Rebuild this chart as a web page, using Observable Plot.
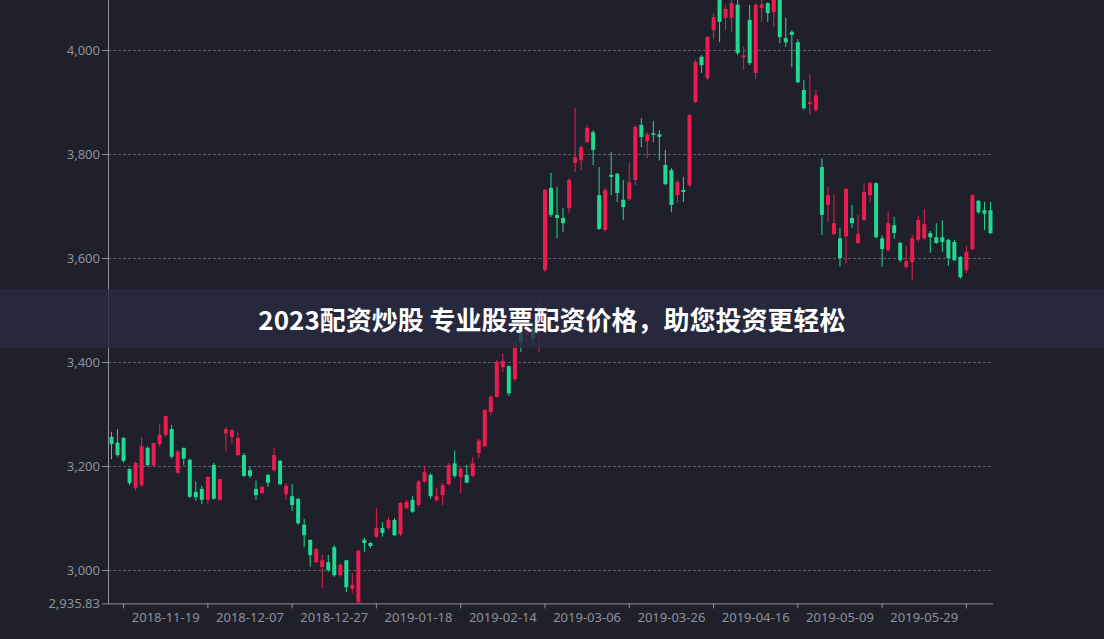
<!DOCTYPE html>
<html>
<head>
<meta charset="utf-8">
<script src="https://cdn.jsdelivr.net/npm/d3@7"></script>
<script src="https://cdn.jsdelivr.net/npm/@observablehq/plot@0.6"></script>
<style>
html, body { margin: 0; padding: 0; background: #1f202a; width: 1104px; height: 639px; overflow: hidden; }
#wrap { position: relative; width: 1104px; height: 639px; }
#banner { position: absolute; left: 0; top: 289px; width: 1104px; height: 59px; background: rgba(40, 43, 66, 0.8);
  color: #ffffff; font-family: "Noto Sans CJK SC", "Noto Sans", sans-serif; font-weight: 700; font-size: 26px;
  display: flex; align-items: center; justify-content: center; }
</style>
</head>
<body>
<div id="wrap"><div id="chart"></div><div id="banner">2023配资炒股 专业股票配资价格，助您投资更轻松</div></div>
<script>
const dates = [
"2018-11-06","2018-11-07","2018-11-08","2018-11-09",
"2018-11-12","2018-11-13","2018-11-14","2018-11-15","2018-11-16",
"2018-11-19","2018-11-20","2018-11-21","2018-11-22","2018-11-23",
"2018-11-26","2018-11-27","2018-11-28","2018-11-29","2018-11-30",
"2018-12-03","2018-12-04","2018-12-05","2018-12-06","2018-12-07",
"2018-12-10","2018-12-11","2018-12-12","2018-12-13","2018-12-14",
"2018-12-17","2018-12-18","2018-12-19","2018-12-20","2018-12-21",
"2018-12-24","2018-12-25","2018-12-26","2018-12-27","2018-12-28",
"2019-01-02","2019-01-03","2019-01-04",
"2019-01-07","2019-01-08","2019-01-09","2019-01-10","2019-01-11",
"2019-01-14","2019-01-15","2019-01-16","2019-01-17","2019-01-18",
"2019-01-21","2019-01-22","2019-01-23","2019-01-24","2019-01-25",
"2019-01-28","2019-01-29","2019-01-30","2019-01-31","2019-02-01",
"2019-02-11","2019-02-12","2019-02-13","2019-02-14","2019-02-15",
"2019-02-18","2019-02-19","2019-02-20","2019-02-21","2019-02-22",
"2019-02-25","2019-02-26","2019-02-27","2019-02-28","2019-03-01",
"2019-03-04","2019-03-05","2019-03-06","2019-03-07","2019-03-08",
"2019-03-11","2019-03-12","2019-03-13","2019-03-14","2019-03-15",
"2019-03-18","2019-03-19","2019-03-20","2019-03-21","2019-03-22",
"2019-03-25","2019-03-26","2019-03-27","2019-03-28","2019-03-29",
"2019-04-01","2019-04-02","2019-04-03","2019-04-04",
"2019-04-08","2019-04-09","2019-04-10","2019-04-11","2019-04-12",
"2019-04-15","2019-04-16","2019-04-17","2019-04-18","2019-04-19",
"2019-04-22","2019-04-23","2019-04-24","2019-04-25","2019-04-26",
"2019-04-29","2019-04-30",
"2019-05-06","2019-05-07","2019-05-08","2019-05-09","2019-05-10",
"2019-05-13","2019-05-14","2019-05-15","2019-05-16","2019-05-17",
"2019-05-20","2019-05-21","2019-05-22","2019-05-23","2019-05-24",
"2019-05-27","2019-05-28","2019-05-29","2019-05-30","2019-05-31",
"2019-06-03","2019-06-04","2019-06-05","2019-06-06",
"2019-06-10","2019-06-11","2019-06-12","2019-06-13","2019-06-14"
];

// [open, close, low, high]
const candles = [
[3256,3242,3213,3266],[3245,3221,3218,3271],[3254,3210,3206,3256],[3194,3167,3163,3196],[3158,3206,3152,3208],
[3163,3238,3160,3256],[3235,3202,3199,3238],[3201,3244,3199,3245],[3242,3260,3237,3281],[3260,3296,3256,3296],
[3271,3218,3214,3279],[3187,3228,3185,3231],[3235,3214,3202,3235],[3212,3141,3139,3214],[3150,3140,3133,3170],
[3156,3135,3127,3162],[3135,3179,3127,3181],[3202,3137,3135,3206],[3135,3175,3133,3175],[3263,3271,3228,3275],
[3256,3269,3244,3271],[3221,3254,3219,3265],[3221,3181,3179,3225],[3192,3181,3177,3199],[3156,3144,3135,3172],
[3148,3160,3146,3162],[3183,3168,3160,3185],[3192,3221,3189,3235],[3210,3165,3163,3212],[3146,3162,3135,3167],
[3142,3125,3114,3165],[3137,3090,3087,3139],[3087,3067,3044,3098],[3058,3029,3006,3058],[3015,3040,3014,3042],
[3006,3019,2965,3029],[3015,3000,2996,3029],[3044,2990,2987,3048],[2990,3010,2987,3014],[3019,2967,2958,3019],
[2964,2971,2956,2994],[2938,3037,2935.83,3039],[3058,3052,3035,3062],[3052,3046,3042,3054],[3064,3081,3062,3119],
[3081,3071,3064,3092],[3081,3096,3077,3102],[3096,3067,3065,3100],[3069,3129,3065,3131],[3119,3131,3117,3135],
[3135,3112,3110,3142],[3125,3170,3121,3173],[3170,3188,3168,3200],[3183,3142,3137,3186],[3135,3142,3131,3158],
[3144,3163,3125,3167],[3165,3202,3163,3206],[3205,3181,3177,3230],[3179,3195,3148,3197],[3183,3168,3167,3202],
[3181,3205,3179,3216],[3225,3249,3215,3252],[3238,3308,3237,3310],[3304,3333,3298,3337],[3333,3400,3331,3404],
[3390,3402,3381,3417],[3392,3340,3335,3394],[3367,3433,3363,3442],[3465,3438,3419,3471],[3452,3471,3437,3485],
[3465,3446,3433,3477],[3458,3504,3419,3523],[3577,3731,3573,3733],[3735,3683,3679,3764],[3683,3677,3638,3737],
[3677,3667,3650,3696],[3696,3750,3687,3754],[3783,3794,3765,3889],[3788,3813,3769,3817],[3823,3850,3821,3856],
[3842,3808,3779,3846],[3721,3656,3654,3775],[3654,3731,3650,3735],[3760,3756,3721,3804],[3762,3725,3708,3764],
[3712,3698,3673,3750],[3713,3746,3710,3783],[3750,3852,3740,3856],[3856,3833,3813,3869],[3825,3838,3792,3842],
[3840,3837,3823,3864],[3838,3833,3788,3846],[3779,3742,3740,3808],[3769,3702,3688,3773],[3721,3746,3706,3750],
[3731,3727,3708,3756],[3740,3875,3737,3876],[3900,3977,3898,3981],[3987,3971,3956,3990],[3946,4025,3942,4026],
[4038,4063,4021,4071],[4102,4054,4015,4112],[4062,4079,4038,4087],[4062,4090,4035,4100],[4087,3994,3990,4098],
[3986,3990,3962,4006],[4058,3975,3971,4087],[3956,4087,3944,4090],[4081,4088,4054,4098],[4090,4071,4054,4092],
[4073,4100,4044,4110],[4105,4025,4013,4115],[4023,4015,4006,4062],[4035,4029,3967,4038],[4015,3938,3936,4021],
[3923,3888,3885,3942],[3896,3900,3875,3954],[3885,3913,3881,3923],[3775,3683,3644,3792],[3702,3721,3669,3737],
[3646,3667,3644,3723],[3638,3600,3583,3658],[3642,3733,3590,3735],[3677,3667,3658,3702],[3629,3646,3627,3683],
[3673,3727,3671,3744],[3721,3744,3708,3746],[3744,3640,3638,3746],[3638,3617,3583,3644],[3615,3667,3612,3690],
[3663,3648,3637,3679],[3629,3596,3592,3631],[3583,3594,3579,3623],[3592,3638,3558,3644],[3635,3673,3631,3681],
[3638,3665,3635,3694],[3648,3640,3610,3652],[3640,3629,3627,3667],[3640,3631,3612,3673],[3635,3600,3585,3637],
[3631,3596,3594,3635],[3602,3563,3560,3604],[3577,3612,3571,3623],[3617,3721,3615,3723],[3710,3688,3685,3712],
[3692,3685,3654,3708],[3692,3648,3646,3708]
];

const labelDates = ["2018-11-19","2018-12-07","2018-12-27","2019-01-18","2019-02-14","2019-03-06","2019-03-26","2019-04-16","2019-05-09","2019-05-29"];
const yTicks = [2935.83, 3000, 3200, 3400, 3600, 3800, 4000];
const gridTicks = [3000, 3200, 3400, 3600, 3800, 4000];
const yMin = 2935.83, yMax = 4096.2;

const upColor = "#eb1c50", downColor = "#21d993";
const axisColor = "#8e909b", labelColor = "#8d909c", gridColor = "#5d606d";

const rows = candles.map(([o, c, l, h], i) => ({i, date: dates[i], open: o, close: c, low: l, high: h, up: c >= o}));
const N = dates.length;
const labelIdx = labelDates.map(d => dates.indexOf(d));
const half = (labelIdx[1] - labelIdx[0]) / 2;
const tickIdx = labelIdx.map(i => i - half).concat([labelIdx[labelIdx.length - 1] + half]);

const chart = Plot.plot({
  width: 1104, height: 639,
  marginLeft: 108, marginRight: 111, marginTop: 0, marginBottom: 35.6,
  style: {background: "#1f202a", fontFamily: "'Noto Sans', sans-serif", fontSize: "13px", overflow: "hidden"},
  x: {type: "linear", domain: [-0.5, N - 0.5], axis: null, label: null},
  y: {domain: [yMin, yMax], axis: null, label: null},
  marks: [
    Plot.gridY(gridTicks, {stroke: gridColor, strokeOpacity: 1, strokeDasharray: "3,2"}),
    Plot.ruleX(rows, {filter: d => d.up, x: "i", y1: "low", y2: "high", stroke: upColor, strokeWidth: 1, clip: true}),
    Plot.ruleX(rows, {filter: d => !d.up, x: "i", y1: "low", y2: "high", stroke: downColor, strokeWidth: 1, clip: true}),
    Plot.ruleX(rows, {filter: d => d.up, x: "i", y1: "open", y2: "close", stroke: upColor, strokeWidth: 4, clip: true}),
    Plot.ruleX(rows, {filter: d => !d.up, x: "i", y1: "open", y2: "close", stroke: downColor, strokeWidth: 4, clip: true}),
    Plot.ruleX([-0.5], {stroke: axisColor, strokeWidth: 1}),
    Plot.ruleY([yMin], {stroke: axisColor, strokeWidth: 1}),
    Plot.axisY(yTicks, {anchor: "left", label: null, tickSize: 6, tickPadding: 2.5, stroke: axisColor, fill: labelColor,
      tickFormat: d3.format(","), fontSize: 13}),
    Plot.axisX(tickIdx, {anchor: "bottom", label: null, tickSize: 5, stroke: axisColor, tickFormat: () => ""}),
    Plot.axisX(labelIdx, {anchor: "bottom", label: null, tickSize: 0, tickPadding: 8.5, fill: labelColor,
      tickFormat: i => dates[i], fontSize: 13})
  ]
});
document.getElementById("chart").appendChild(chart);
</script>
</body>
</html>
